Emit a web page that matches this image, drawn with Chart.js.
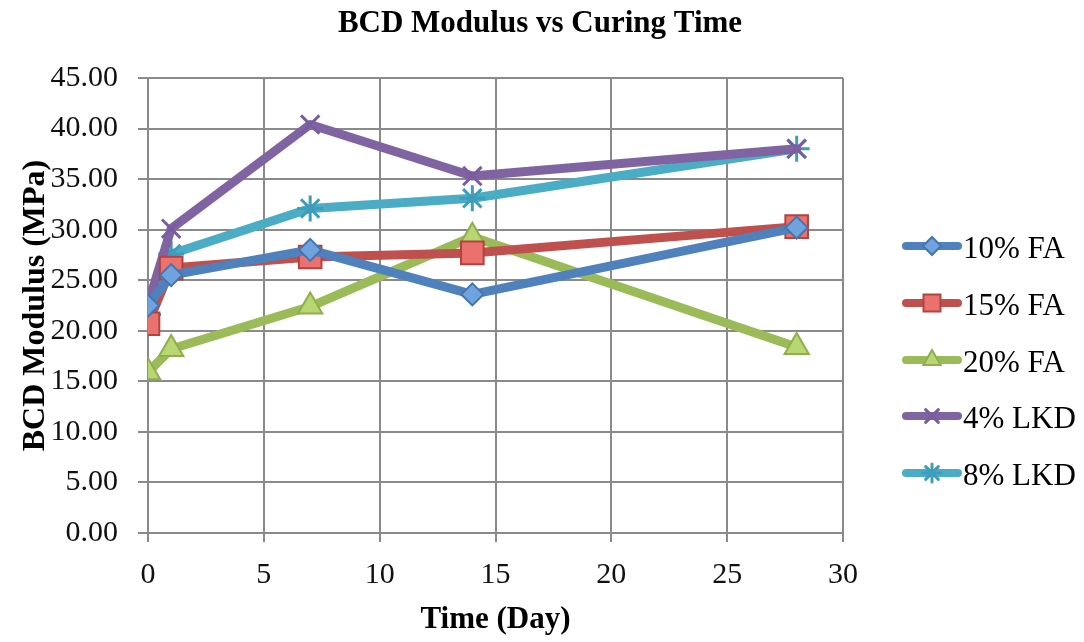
<!DOCTYPE html>
<html>
<head>
<meta charset="utf-8">
<script src="https://cdn.jsdelivr.net/npm/chart.js@4.4.0/dist/chart.umd.min.js"></script>
<style>
  html, body { margin: 0; padding: 0; background: #fff; }
  #wrap { width: 1084px; height: 642px; position: relative; }
</style>
</head>
<body>
<div id="wrap"><canvas id="chart"></canvas></div>
<script>
// curing time (days) and modulus values
const days = [0, 1, 7, 14, 28];
const fa10 = [22.5, 25.5, 28.0, 23.6, 30.2];
const fa15 = [20.7, 26.2, 27.3, 27.7, 30.3];
const fa20 = [15.9, 18.2, 22.4, 29.3, 18.4];
const lkd4 = [22.6, 30.1, 40.4, 35.3, 38.0];
const lkd8 = [21.6, 27.6, 32.1, 33.1, 38.0];

const seriesNames = ['10% FA', '15% FA', '20% FA', '4% LKD', '8% LKD'];
const xTicks = [0, 5, 10, 15, 20, 25, 30];

const FONT = "'Liberation Serif', 'Times New Roman', serif";

const styles = [
  { line: '#4f81bd', fill: '#70a2de', edge: '#4575b0', point: 'rectRot', r: 11, lr: 9, bw: 2 },
  { line: '#c0504d', fill: '#ea716d', edge: '#b4423f', point: 'rect', r: 16, lr: 12, bw: 2 },
  { line: '#9bbb59', fill: '#b8d672', edge: '#8fae4c', point: 'triangle', r: 14, lr: 10, bw: 2 },
  { line: '#8064a2', fill: '#8064a2', edge: '#7a5da0', point: 'crossRot', r: 13, lr: 9, bw: 3 },
  { line: '#4bacc6', fill: '#4bacc6', edge: '#3d9dbb', point: 'star', r: 13, lr: 9, bw: 3 }
];

const values = [fa10, fa15, fa20, lkd4, lkd8];

const datasets = values.map((vals, i) => ({
  label: seriesNames[i],
  data: days.map((d, j) => ({ x: d, y: vals[j] })),
  borderColor: styles[i].line,
  borderWidth: 9,
  borderJoinStyle: 'round',
  borderCapStyle: 'round',
  pointStyle: styles[i].point,
  pointRadius: styles[i].r,
  pointBackgroundColor: styles[i].fill,
  pointBorderColor: styles[i].edge,
  pointBorderWidth: styles[i].bw,
  tension: 0,
  fill: false
}));

// title + line-and-marker legend drawn by hand
const decor = {
  id: 'decor',
  afterDraw(chart) {
    const ctx = chart.ctx;
    ctx.save();
    ctx.fillStyle = '#000';
    ctx.font = 'bold 31px ' + FONT;
    ctx.textAlign = 'center';
    ctx.textBaseline = 'middle';
    ctx.fillText('BCD Modulus vs Curing Time', 540, 24);

    const rowY = [246, 303, 360, 416, 473];
    ctx.textAlign = 'left';
    ctx.font = '31px ' + FONT;
    seriesNames.forEach((name, i) => {
      const y = rowY[i];
      const st = styles[i];
      ctx.strokeStyle = st.line;
      ctx.lineWidth = 8;
      ctx.lineCap = 'round';
      ctx.beginPath();
      ctx.moveTo(906, y);
      ctx.lineTo(958, y);
      ctx.stroke();
      ctx.fillStyle = st.fill;
      ctx.strokeStyle = st.edge;
      ctx.lineWidth = st.bw;
      Chart.helpers.drawPoint(ctx, { pointStyle: st.point, radius: st.lr, rotation: 0, borderWidth: st.bw }, 932, y);
      ctx.fillStyle = '#000';
      ctx.fillText(name, 963, y + 4);
    });
    ctx.restore();
  }
};

new Chart(document.getElementById('chart'), {
  type: 'line',
  data: { datasets },
  options: {
    responsive: true,
    maintainAspectRatio: false,
    animation: false,
    layout: { padding: { top: 78, right: 241, bottom: 0, left: 0 } },
    plugins: {
      legend: { display: false },
      title: { display: false },
      tooltip: { enabled: false }
    },
    scales: {
      x: {
        type: 'linear',
        min: 0,
        max: 30,
        afterBuildTicks: axis => { axis.ticks = xTicks.map(v => ({ value: v })); },
        afterFit: axis => { axis.height = 109; },
        grid: { color: '#8a8a8a', lineWidth: 2, tickLength: 9 },
        border: { color: '#8a8a8a', width: 2 },
        ticks: { color: '#111', font: { family: FONT, size: 30 }, padding: 15 },
        title: {
          display: true,
          text: 'Time (Day)',
          color: '#000',
          font: { family: FONT, size: 31, weight: 'bold' },
          padding: { top: 0, bottom: 3 }
        }
      },
      y: {
        min: 0,
        max: 45,
        afterFit: axis => { axis.width = 148; },
        grid: { color: '#8a8a8a', lineWidth: 2, tickLength: 10 },
        border: { color: '#8a8a8a', width: 2 },
        ticks: {
          stepSize: 5,
          color: '#111',
          font: { family: FONT, size: 30 },
          padding: 20,
          callback: v => Number(v).toFixed(2)
        },
        title: {
          display: true,
          text: 'BCD Modulus (MPa)',
          color: '#000',
          font: { family: FONT, size: 32, weight: 'bold' },
          padding: { top: 17, bottom: 0 }
        }
      }
    }
  },
  plugins: [decor]
});
</script>
</body>
</html>
